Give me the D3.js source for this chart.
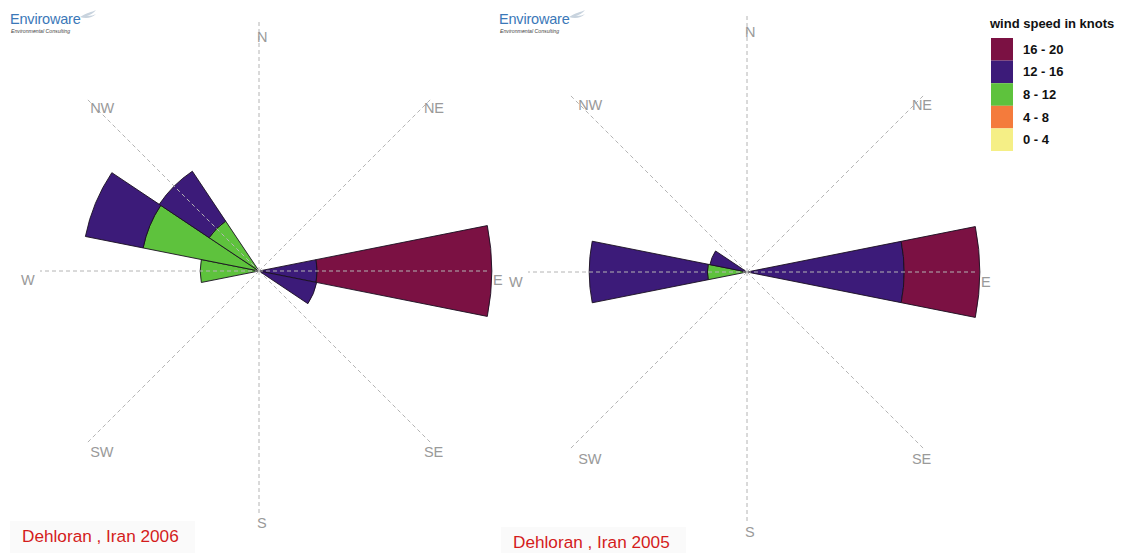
<!DOCTYPE html>
<html>
<head>
<meta charset="utf-8">
<script src="https://cdn.jsdelivr.net/npm/d3@7"></script>
<style>
  html, body { margin: 0; padding: 0; background: #ffffff; }
  svg { display: block; font-family: Arial, "Liberation Sans", sans-serif; }
</style>
</head>
<body>
<svg id="chart" width="1126" height="553"></svg>
<script>
// 16 compass sectors, clockwise from north
const directions = ["N", "NNE", "NE", "ENE", "E", "ESE", "SE", "SSE",
                    "S", "SSW", "SW", "WSW", "W", "WNW", "NW", "NNW"];
const axisLabels = ["N", "NE", "E", "SE", "S", "SW", "W", "NW"];

// speed classes (knots), legend order top to bottom
const speedBins = ["0 - 4", "4 - 8", "8 - 12", "12 - 16", "16 - 20"];
const binColors = ["#f5ef86", "#f47b3c", "#5ec23d", "#3c1b79", "#7b1143"];

// frequency (%) per direction for each speed class — Dehloran 2006
const y2006_0_4   = [0, 0, 0, 0, 0,    0,   0, 0, 0, 0, 0, 0, 0,    0,    0,  0];
const y2006_4_8   = [0, 0, 0, 0, 0,    0,   0, 0, 0, 0, 0, 0, 0,    0,    0,  0];
const y2006_8_12  = [0, 0, 0, 0, 0,    0,   0, 0, 0, 0, 0, 0, 9.8,  19.7, 10, 0];
const y2006_12_16 = [0, 0, 0, 0, 9.7,  9.8, 0, 0, 0, 0, 0, 0, 0,    9.8,  10, 0];
const y2006_16_20 = [0, 0, 0, 0, 29.1, 0,   0, 0, 0, 0, 0, 0, 0,    0,    0,  0];

// frequency (%) per direction for each speed class — Dehloran 2005
const y2005_0_4   = [0, 0, 0, 0, 0,    0, 0, 0, 0, 0, 0, 0, 0,    0,   0, 0];
const y2005_4_8   = [0, 0, 0, 0, 0,    0, 0, 0, 0, 0, 0, 0, 0,    0,   0, 0];
const y2005_8_12  = [0, 0, 0, 0, 0,    0, 0, 0, 0, 0, 0, 0, 6.6,  0,   0, 0];
const y2005_12_16 = [0, 0, 0, 0, 26.2, 0, 0, 0, 0, 0, 0, 0, 19.7, 6.3, 0, 0];
const y2005_16_20 = [0, 0, 0, 0, 12.6, 0, 0, 0, 0, 0, 0, 0, 0,    0,   0, 0];

const titles = ["Dehloran , Iran 2006", "Dehloran , Iran 2005"];
const legendTitle = "wind speed in knots";

const svg = d3.select("#chart");

// radial scale: percent of time -> pixels
const r = d3.scaleLinear().domain([0, 40]).range([0, 240]);
const sector = d3.scaleBand().domain(directions).range([0, 2 * Math.PI]);
const colorOf = d3.scaleOrdinal().domain(speedBins).range(binColors);

const roses = [
  { cx: 259, cy: 271, bins: [y2006_0_4, y2006_4_8, y2006_8_12, y2006_12_16, y2006_16_20],
    lx: 236, ly: 243, ldy: 9, reachN: 249, reachS: 242, reachE: 228, reachW: 219, reachD: 245,
    title: titles[0], tx: 22, ty: 542, logoX: 10 },
  { cx: 747, cy: 272, bins: [y2005_0_4, y2005_4_8, y2005_8_12, y2005_12_16, y2005_16_20],
    lx: 236, ly: 250, ldy: 10, reachN: 257, reachS: 250, reachE: 228, reachW: 219, reachD: 250,
    title: titles[1], tx: 513, ty: 548, logoX: 499 }
];

const arc = d3.arc();

function drawLogo(x) {
  const g = svg.append("g").attr("transform", `translate(${x},0)`);
  g.append("path")
    .attr("d", "M70,17 C76,13 82,12 86,10 C84,13 80,15 77,16 C81,16 84,15 86,14 C82,18 76,19 70,17 Z")
    .attr("fill", "#c8d3de");
  g.append("text").attr("x", 0).attr("y", 24)
    .attr("font-size", 14.5).attr("fill", "#3b78b8").attr("letter-spacing", -0.2)
    .text("Enviroware");
  g.append("text").attr("x", 1).attr("y", 33)
    .attr("font-size", 5.2).attr("font-style", "italic").attr("fill", "#444")
    .text("Environmental Consulting");
}

roses.forEach(rose => {
  const g = svg.append("g").attr("transform", `translate(${rose.cx},${rose.cy})`);

  // stacked wedges per direction
  const segs = [];
  directions.forEach((dir, i) => {
    let acc = 0;
    speedBins.forEach((bin, b) => {
      const v = rose.bins[b][i];
      if (v > 0) {
        segs.push({ dir, bin, inner: acc, outer: acc + v });
        acc += v;
      }
    });
  });

  g.selectAll("path.wedge").data(segs).join("path")
    .attr("class", "wedge")
    .attr("d", d => arc({
      innerRadius: r(d.inner),
      outerRadius: r(d.outer),
      startAngle: sector(d.dir) - sector.bandwidth() / 2,
      endAngle: sector(d.dir) + sector.bandwidth() / 2
    }))
    .attr("fill", d => colorOf(d.bin))
    .attr("stroke", "#1a1020")
    .attr("stroke-width", 0.9)
    .attr("stroke-linejoin", "round");

  // dashed compass axes, drawn over the wedges
  const reach = {
    N: [0, -rose.reachN], S: [0, rose.reachS], E: [rose.reachE, 0], W: [-rose.reachW, 0],
    NE: [rose.reachD * Math.SQRT1_2, -rose.reachD * Math.SQRT1_2],
    SE: [rose.reachD * Math.SQRT1_2, rose.reachD * Math.SQRT1_2],
    SW: [-rose.reachD * Math.SQRT1_2, rose.reachD * Math.SQRT1_2],
    NW: [-rose.reachD * Math.SQRT1_2, -rose.reachD * Math.SQRT1_2]
  };
  g.selectAll("line.axis").data(axisLabels).join("line")
    .attr("class", "axis")
    .attr("x1", 0).attr("y1", 0)
    .attr("x2", d => reach[d][0]).attr("y2", d => reach[d][1])
    .attr("stroke", "#b4b4b4")
    .attr("stroke-width", 1)
    .attr("stroke-dasharray", "4,3");

  // compass labels
  g.selectAll("text.dir").data(axisLabels).join("text")
    .attr("class", "dir")
    .attr("x", d => rose.lx * Math.sin(sector(d)) - 2)
    .attr("y", d => -rose.ly * Math.cos(sector(d)) + rose.ldy)
    .attr("dy", "0.35em")
    .attr("font-size", 14.5)
    .attr("fill", "#9a9a9a")
    .text(d => d);

  // station title on a faint panel
  svg.append("rect").attr("x", rose.tx - 12).attr("y", rose.ty - 21)
    .attr("width", 185).attr("height", 553 - (rose.ty - 21)).attr("fill", "#fafafa");
  svg.append("text").attr("x", rose.tx).attr("y", rose.ty)
    .attr("font-size", 17.2).attr("fill", "#d41c1c")
    .text(rose.title);

  drawLogo(rose.logoX);
});

// legend
const legend = svg.append("g").attr("transform", "translate(990,0)");
legend.append("text").attr("x", 0).attr("y", 28)
  .attr("font-size", 13).attr("font-weight", "bold").attr("fill", "#111")
  .text(legendTitle);
const legendOrder = speedBins.slice().reverse();
const ly = d3.scaleBand().domain(legendOrder).range([38, 151]);
legend.selectAll("rect.key").data(legendOrder).join("rect")
  .attr("class", "key")
  .attr("x", 1).attr("y", d => ly(d))
  .attr("width", 22).attr("height", ly.bandwidth())
  .attr("fill", d => colorOf(d));
legend.selectAll("text.key").data(legendOrder).join("text")
  .attr("class", "key")
  .attr("x", 33).attr("y", d => ly(d) + ly.bandwidth() / 2)
  .attr("dy", "0.35em")
  .attr("font-size", 13).attr("font-weight", "bold").attr("fill", "#111")
  .text(d => d);
</script>
</body>
</html>
